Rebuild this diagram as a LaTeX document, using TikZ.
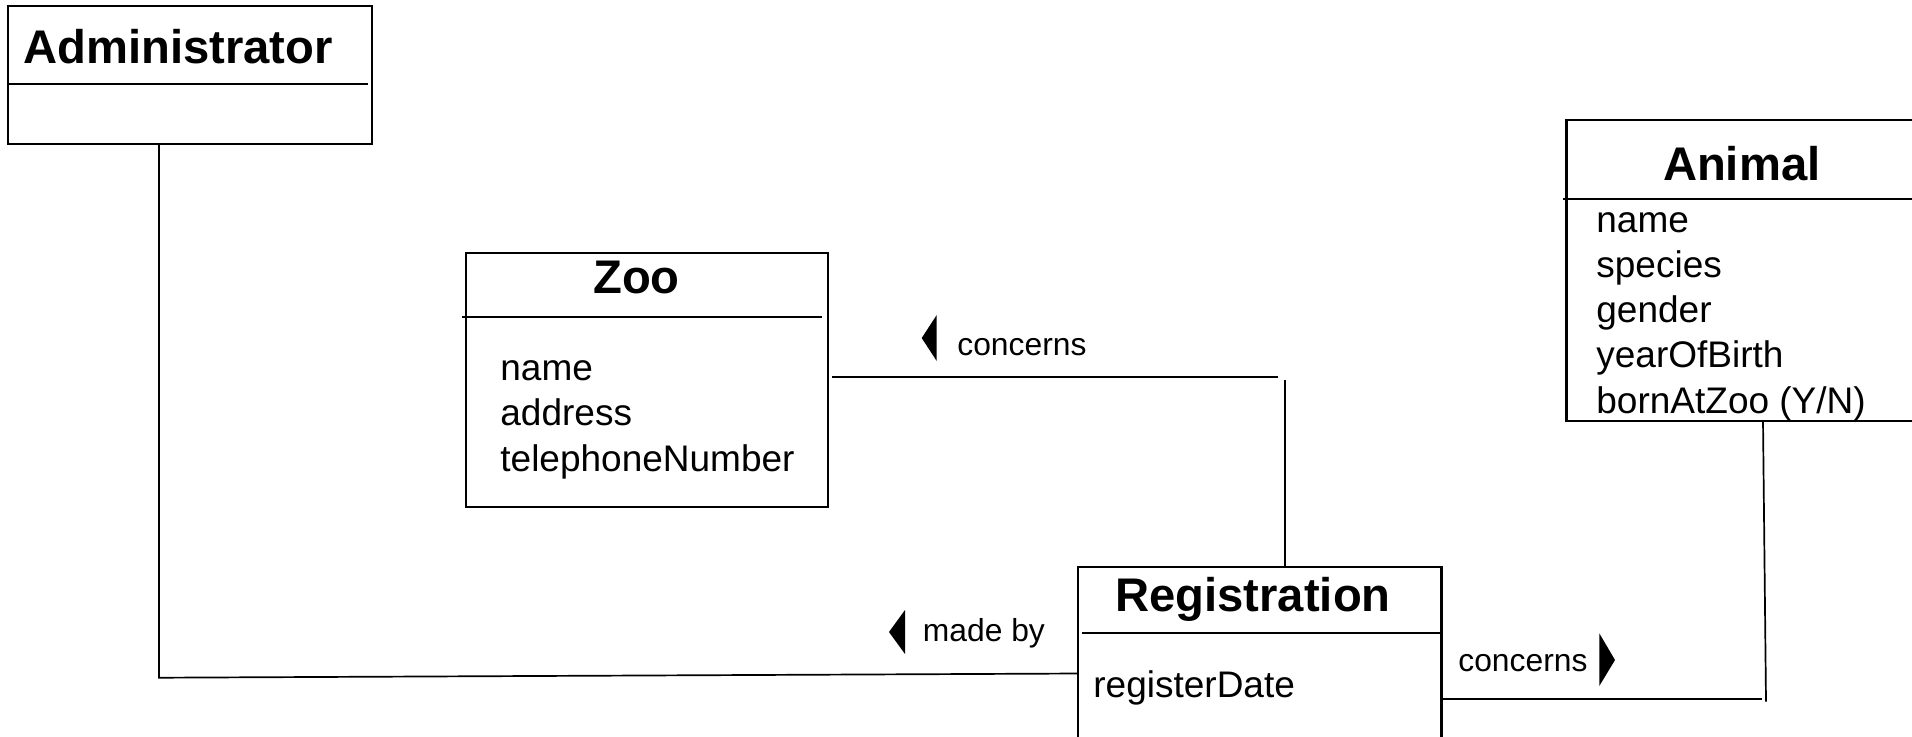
\documentclass[tikz,border=0pt]{standalone}
\usepackage{fontspec}
\setmainfont{Liberation Sans}
\begin{document}
\begin{tikzpicture}[x=0.5pt,y=-0.5pt,
  classbox/.style={draw=black,line width=1.1pt,fill=none,inner sep=0pt,outer sep=0pt,anchor=north west},
  divider/.style={draw=black,line width=1pt},
  conn/.style={draw=black,line width=0.85pt},
  title/.style={font=\fontsize{23.6pt}{26pt}\selectfont\bfseries,inner sep=0pt,anchor=base},
  attr/.style={font=\fontsize{18.5pt}{21pt}\selectfont,inner sep=0pt,anchor=base west},
  lbl/.style={font=\fontsize{15.9pt}{18pt}\selectfont,inner sep=0pt,anchor=base west},
  tri/.style={fill=black}]
\useasboundingbox (0,0) rectangle (1912,736);
\fill[white] (0,0) rectangle (1912,736);
\clip (0,0) rectangle (1912,736);

% class boxes
\node[classbox,minimum width=182pt,minimum height=69pt] (admin) at (8,6) {};
\node[classbox,minimum width=181pt,minimum height=127pt] (zoo) at (466,253) {};
\node[classbox,minimum width=181.75pt,minimum height=96.5pt] (reg) at (1078,567) {};
\node[classbox,minimum width=181.75pt,minimum height=150.35pt] (animal) at (1566.5,120) {};

% dividers
\draw[divider] (8,84) -- (368,84);
\draw[divider] (462,317) -- (822,317);
\draw[divider] (1082,633) -- (1441,633);
\draw[divider] (1563,199) -- (1930,199);

% titles
\node[title,anchor=base west] (admint) at (23,63) {Administrator};
\node[title] (zoot) at (636.5,293) {Zoo};
\node[title] (regt) at (1253,611) {Registration};
\node[title] (animalt) at (1741.7,180) {Animal};

% attributes
\node[attr] (za1) at (500,380) {name};
\node[attr] (za2) at (500,425.5) {address};
\node[attr] (za3) at (500,471) {telephoneNumber};
\node[attr] (ra1) at (1093,697) {registerDate};
\node[attr] (aa1) at (1596,232.7) {name};
\node[attr] (aa2) at (1596,277.2) {species};
\node[attr] (aa3) at (1596,322) {gender};
\node[attr] (aa4) at (1596,367.5) {yearOfBirth};
\node[attr] (aa5) at (1596,413) {bornAtZoo (Y/N)};

% connectors
\coordinate (ac) at (159,677.7);
\coordinate (mbR) at (1078,673.5);
\draw[conn] (ac |- admin.south) -- (ac) -- (mbR);

\coordinate (zc1) at (1278,376.7);
\coordinate (zc2) at (1284.7,380);
\draw[conn] (832,376.7) -- (zc1);
\draw[conn] (zc2) -- (zc2 |- reg.north);

\coordinate (rc1) at (1762,698.7);
\coordinate (rc2) at (1766,701.7);
\coordinate (rc3) at (1763,420.7);
\draw[conn] (reg.east |- rc1) -- (rc1);
\draw[conn] (rc3 |- animal.south) -- (rc2);

% association labels
\fill[tri] (921.7,338) -- (936.7,315) -- (936.7,361) -- cycle;
\node[lbl] (l1) at (957,355) {concerns};
\fill[tri] (889,632) -- (905,610) -- (905,654) -- cycle;
\node[lbl] (l2) at (922.5,641.7) {made by};
\node[lbl] (l3) at (1458,671.7) {concerns};
\fill[tri] (1615,660) -- (1599.3,633.3) -- (1599.3,686) -- cycle;
\end{tikzpicture}
\end{document}
